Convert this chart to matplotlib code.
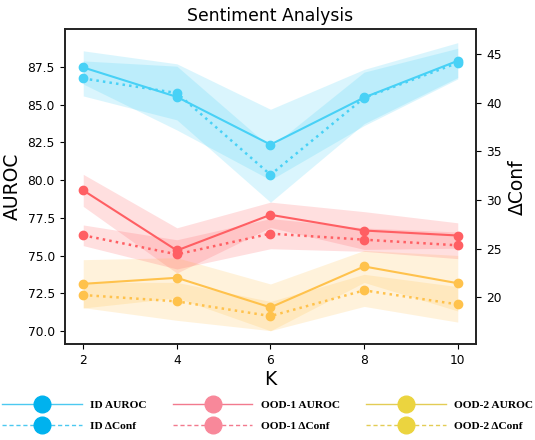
import matplotlib
matplotlib.use('Agg')
import matplotlib.pyplot as plt
from matplotlib.lines import Line2D
import numpy as np

K = [2, 4, 6, 8, 10]
id_auroc = [87.46, 85.51, 82.35, 85.47, 87.90]
id_auroc_err = [1.10, 2.19, 2.34, 1.86, 1.20]
id_conf = [42.5, 41.0, 32.6, 40.5, 44.1]
id_conf_err = [1.80, 2.76, 2.82, 2.65, 1.50]
ood1_auroc = [79.32, 75.34, 77.70, 76.66, 76.33]
ood1_auroc_err = [1.06, 1.50, 0.84, 1.25, 0.84]
ood1_conf = [26.38, 24.42, 26.55, 25.93, 25.35]
ood1_conf_err = [1.06, 1.50, 1.55, 1.20, 1.37]
ood2_auroc = [73.13, 73.53, 71.57, 74.28, 73.17]
ood2_auroc_err = [1.60, 1.33, 1.55, 1.06, 1.84]
ood2_conf = [20.24, 19.59, 18.08, 20.72, 19.28]
ood2_conf_err = [1.30, 1.95, 1.50, 1.65, 1.82]

left_ticks = [70.0, 72.5, 75.0, 77.5, 80.0, 82.5, 85.0, 87.5]
right_ticks = [20, 25, 30, 35, 40, 45]

plot_colors = ['#48D1F6', '#FF5F63', '#FFC24C']
legend_marker_colors = ['#00B2EE', '#F8889A', '#EBD43F']
legend_line_colors = ['#4CC9F0', '#F27A8E', '#E3CC55']
names = ['ID', 'OOD-1', 'OOD-2']

fig = plt.figure(figsize=(5.35, 4.4), dpi=100)
ax = fig.add_axes([0.1206, 0.218, 0.770, 0.7152])
ax2 = ax.twinx()

series = [
    (id_auroc, id_auroc_err, id_conf, id_conf_err),
    (ood1_auroc, ood1_auroc_err, ood1_conf, ood1_conf_err),
    (ood2_auroc, ood2_auroc_err, ood2_conf, ood2_conf_err),
]
x = np.array(K)
for (a, ae, c, ce), col in zip(series, plot_colors):
    a = np.array(a); ae = np.array(ae); c = np.array(c); ce = np.array(ce)
    ax.fill_between(x, a - ae, a + ae, color=col, alpha=0.2, lw=0)
    ax.plot(x, a, '-', color=col, lw=1.5, marker='o', ms=6, zorder=3)
    ax2.fill_between(x, c - ce, c + ce, color=col, alpha=0.2, lw=0)
    ax2.plot(x, c, ':', color=col, lw=1.8, marker='o', ms=6, zorder=3)

ax.set_xlim(1.6, 10.4)
ax.set_ylim(69.14, 89.98)
ax2.set_ylim(15.2, 47.54)
ax.set_xticks(K)
ax.set_yticks(left_ticks)
ax2.set_yticks(right_ticks)
ax.tick_params(labelsize=8.8)
ax2.tick_params(labelsize=8.8)
for a_ in (ax, ax2):
    for s in a_.spines.values():
        s.set_color('#222222')
        s.set_linewidth(1.2)

ax.set_title('Sentiment Analysis', fontsize=12.4)
ax.set_xlabel('K', fontsize=13.5, labelpad=2)
ax.set_ylabel('AUROC', fontsize=13.5)
ax2.set_ylabel('ΔConf', fontsize=13.5)

handles = []
labels = []
for n, mc, lc in zip(names, legend_marker_colors, legend_line_colors):
    handles.append(Line2D([0], [0], color=lc, lw=1.0, ls='-', marker='o', ms=12,
                          markerfacecolor=mc, markeredgecolor=mc))
    labels.append(n + ' AUROC')
    handles.append(Line2D([0], [0], color=lc, lw=1.0, ls=(0, (3, 2)), marker='o', ms=12,
                          markerfacecolor=mc, markeredgecolor=mc))
    labels.append(n + ' ΔConf')

fig.legend(handles, labels, loc='center', bbox_to_anchor=(0.5, 0.056), ncol=3,
           frameon=False, numpoints=1, handlelength=7.0, handletextpad=0.74,
           columnspacing=2.3, labelspacing=1.0, borderpad=0,
           prop={'family': 'Liberation Serif', 'weight': 'bold', 'size': 8.2})

fig.savefig('out.png', dpi=100)
